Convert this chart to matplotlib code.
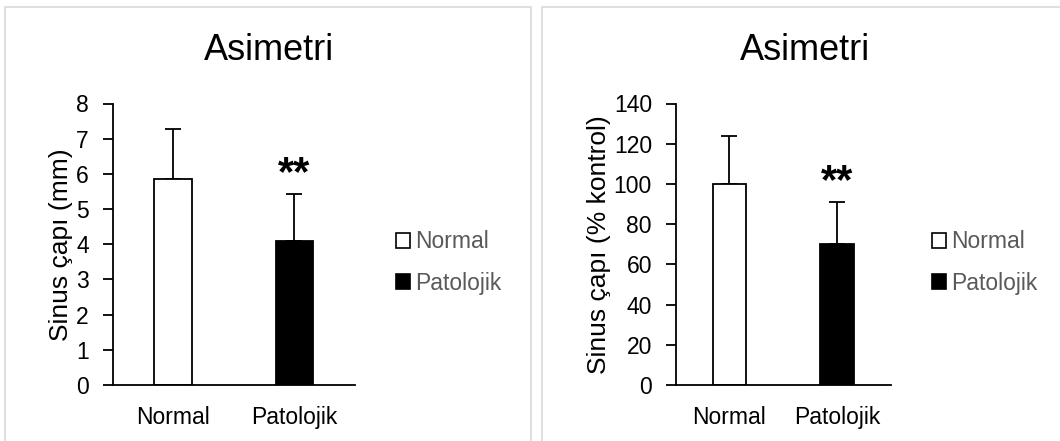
import matplotlib.pyplot as plt
from matplotlib.patches import Patch, Rectangle

plt.rcParams['font.family'] = ['Liberation Sans', 'DejaVu Sans']

groups = ['Normal', 'Patolojik']
title = 'Asimetri'

mm_means = [5.85, 4.10]
mm_err = [1.42, 1.33]
mm_ticks = [0, 1, 2, 3, 4, 5, 6, 7, 8]

pct_means = [100, 70]
pct_err = [24, 21]
pct_ticks = [0, 20, 40, 60, 80, 100, 120, 140]

sig_label = '**'
bar_colors = ['white', 'black']
legend_grey = '#595959'

fig = plt.figure(figsize=(10.6, 4.41), dpi=100)

# light grey frames around the two chart areas
fig.add_artist(Rectangle((5 / 1060, -0.01), 526 / 1060, 1 - 7 / 441 + 0.01,
                         transform=fig.transFigure, fill=False, edgecolor='#d9d9d9', lw=1.2))
fig.add_artist(Rectangle((542 / 1060, -0.01), 525 / 1060, 1 - 7 / 441 + 0.01,
                         transform=fig.transFigure, fill=False, edgecolor='#d9d9d9', lw=1.2))

ax1 = fig.add_axes([112.5 / 1060, 56 / 441, 242.5 / 1060, 281.5 / 441])
ax2 = fig.add_axes([675.5 / 1060, 56 / 441, 215.2 / 1060, 281.5 / 441])


def draw(ax, means, errs, ticks, ylabel, sig_y):
    x = range(len(groups))
    ax.bar(x, means, width=0.31, color=bar_colors, edgecolor='black', linewidth=1.3, zorder=2)
    ax.errorbar(x, means, yerr=[[0] * len(errs), errs], fmt='none', ecolor='black',
                elinewidth=1.3, capsize=5.5, capthick=1.3, zorder=1)
    ax.text(1, sig_y, sig_label, ha='center', va='center', fontsize=30, fontweight='bold')
    ax.set_xlim(-0.5, 1.5)
    ax.set_ylim(ticks[0], ticks[-1])
    ax.set_yticks(ticks)
    ax.set_xticks(list(x))
    ax.set_xticklabels(groups)
    ax.spines['top'].set_visible(False)
    ax.spines['right'].set_visible(False)
    ax.spines['left'].set_linewidth(1.3)
    ax.spines['bottom'].set_linewidth(1.3)
    ax.tick_params(axis='y', length=7, width=1.3, pad=10, labelsize=16.5)
    ax.tick_params(axis='x', length=0, pad=15, labelsize=16.5)
    ax.set_ylabel(ylabel, fontsize=19, labelpad=2)


draw(ax1, mm_means, mm_err, mm_ticks, 'Sinus çapı (mm)', 6.0)
draw(ax2, pct_means, pct_err, pct_ticks, 'Sinus çapı (% kontrol)', 101)

fig.text(268.6 / 1060, 1 - 50.7 / 441, title, ha='center', va='center', fontsize=26)
fig.text(805 / 1060, 1 - 50.7 / 441, title, ha='center', va='center', fontsize=26)

handles = [Patch(facecolor=c, edgecolor='black', linewidth=1.2, label=g)
           for c, g in zip(bar_colors, groups)]
for ax, lx in [(ax1, 396), (ax2, 932)]:
    leg = ax.legend(handles=handles, loc='center left',
                    bbox_to_anchor=(lx / 1060, 1 - 262.6 / 441),
                    bbox_transform=fig.transFigure, frameon=False, fontsize=16.5,
                    handlelength=0.6, handleheight=0.6, handletextpad=0.25,
                    labelspacing=0.8, borderpad=0, borderaxespad=0)
    for t in leg.get_texts():
        t.set_color(legend_grey)

fig.savefig('out.png', dpi=100)
